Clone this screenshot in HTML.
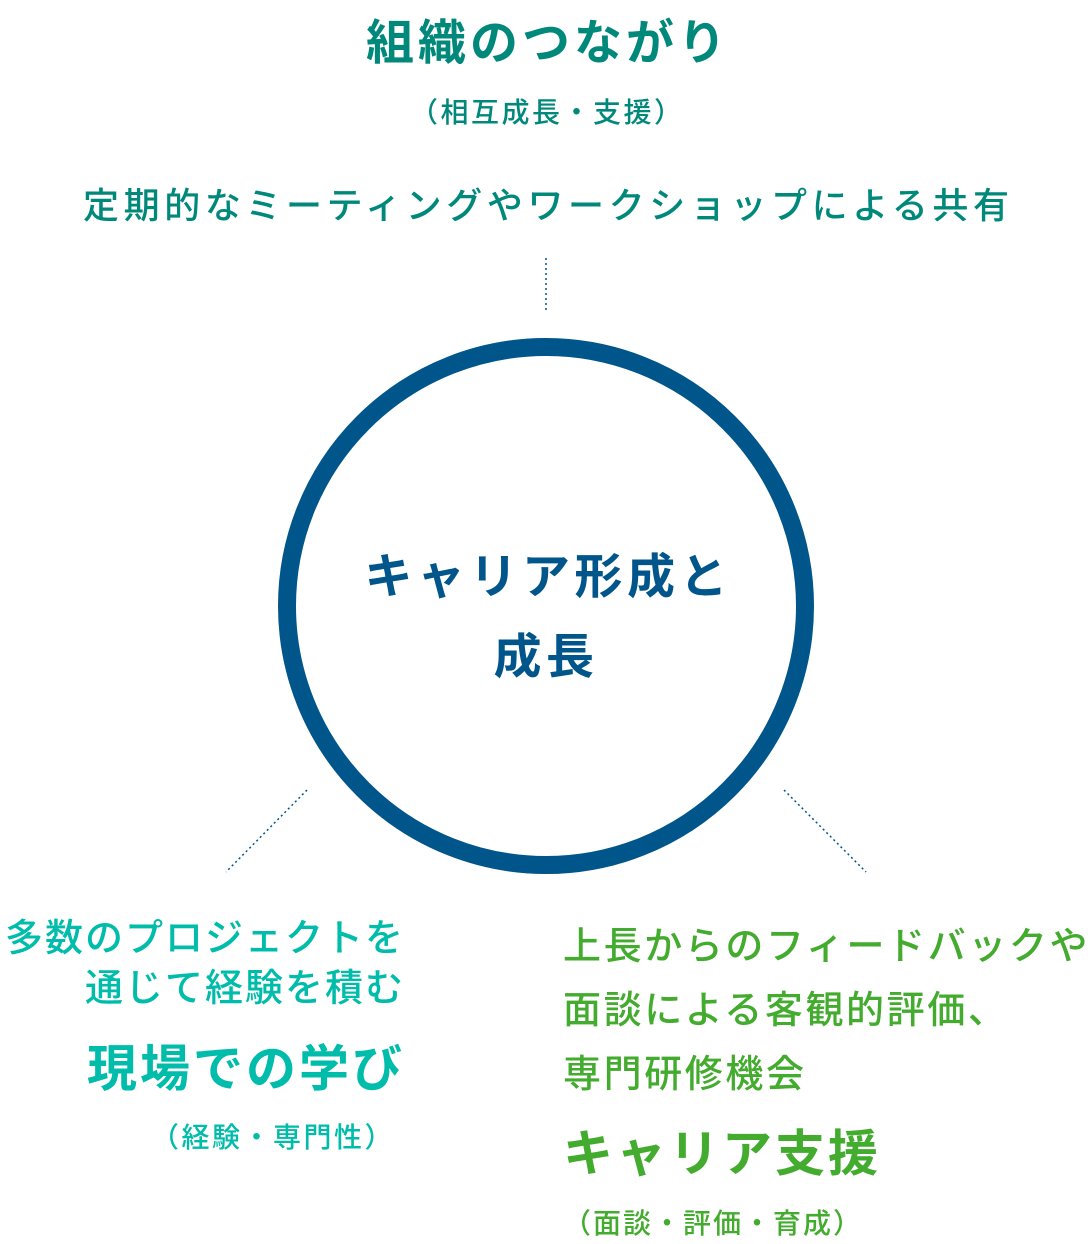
<!DOCTYPE html>
<html><head><meta charset="utf-8"><style>
body{margin:0;width:1092px;height:1244px;background:#fff;position:relative;overflow:hidden;font-family:"Noto Sans CJK JP","Liberation Sans",sans-serif}
.t{position:absolute;white-space:nowrap;line-height:1;font-weight:500}
.c{left:0;width:1092px;text-align:center}
.tl{color:#00897b}
.lf{color:#00bcaa}
.rg{color:#43ab2e}
</style></head><body>
<div class="t c tl" style="top:14px;font-size:48px;font-weight:700;letter-spacing:4px;text-indent:4px">組織のつながり</div>
<div class="t c tl" style="top:97px;font-size:28px;letter-spacing:2.5px;text-indent:2.5px">（相互成長・支援）</div>
<div class="t c tl" style="top:185px;font-size:36px;letter-spacing:4.6px;text-indent:4.6px">定期的なミーティングやワークショップによる共有</div>
<svg style="position:absolute;left:0;top:0" width="1092" height="1244">
<line x1="546" y1="258" x2="546" y2="310" stroke="#00568b" stroke-width="1.5" stroke-dasharray="2 3"/>
<circle cx="546" cy="606" r="259" fill="none" stroke="#00568b" stroke-width="18"/>
<line x1="307" y1="790" x2="226" y2="872" stroke="#00568b" stroke-width="1.5" stroke-dasharray="2 3"/>
<line x1="784" y1="790" x2="866" y2="872" stroke="#00568b" stroke-width="1.5" stroke-dasharray="2 3"/>
</svg>
<div class="t c" style="top:532px;font-size:48px;font-weight:700;color:#00568b;letter-spacing:4.5px;line-height:80px;text-indent:4.5px">キャリア形成と<br>成長</div>
<div class="t lf" style="right:687px;top:910px;font-size:38px;letter-spacing:2px;line-height:50px;text-align:right">多数のプロジェクトを<br>通じて経験を積む</div>
<div class="t lf" style="right:687px;top:1040px;font-size:50px;font-weight:700;letter-spacing:3px">現場での学び</div>
<div class="t lf" style="right:697px;top:1122px;font-size:28px;letter-spacing:2.5px">（経験・専門性）</div>
<div class="t rg" style="left:563px;top:911px;font-size:38px;letter-spacing:2.6px;line-height:64px">上長からのフィードバックや<br>面談による客観的評価、<br>専門研修機会</div>
<div class="t rg" style="left:563px;top:1125px;font-size:50px;font-weight:700;letter-spacing:3px">キャリア支援</div>
<div class="t rg" style="left:563px;top:1208px;font-size:28px;letter-spacing:2px">（面談・評価・育成）</div>
</body></html>
